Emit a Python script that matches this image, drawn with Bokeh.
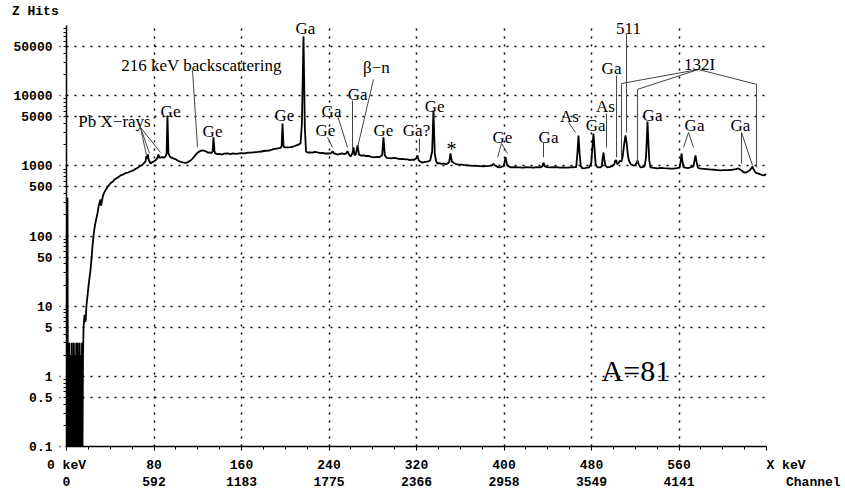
from bokeh.plotting import figure
from bokeh.models import Range1d, FixedTicker, Label, ColumnDataSource, LinearAxis
from bokeh.embed import file_html
from bokeh.resources import INLINE
from bokeh.core.properties import value

# ---------------- data ----------------
energy_kev = [
    0.3, 0.9, 1.3, 1.8, 2.2, 2.7, 3.1, 3.6, 4.0, 4.4, 4.9, 5.3, 5.8, 6.2, 6.7, 7.1, 7.5, 8.0, 8.4, 8.9,
    9.3, 9.8, 10.2, 10.6, 11.1, 11.5, 12.0, 12.4, 12.8, 13.3, 13.7, 14.2, 14.6, 15.1,
    15.6, 16.5, 17.5, 18.2, 19.2, 20.5, 21.9, 23.0, 23.8, 24.7, 25.6, 27.0, 28.3, 29.3, 30.2, 31.0,
    31.6, 32.4, 33.5, 34.6, 35.7, 37.5, 40.2, 42.5, 44.0, 46.0, 47.5, 49.4, 51.5, 54.0, 56.0, 58.5,
    61.0, 63.0, 65.5, 67.7, 69.0, 70.5, 72.2, 73.0, 73.6, 74.4, 75.3, 76.8, 78.0, 79.5, 80.8, 82.5,
    83.4, 84.1, 85.0, 86.3, 87.8, 89.2, 90.5, 91.5, 92.3, 93.2, 94.2, 95.1, 97.5, 99.7, 102.0, 104.0,
    107.0, 109.0, 111.0, 113.0, 115.2, 117.5, 119.8, 122.0, 124.3, 126.5, 127.5, 129.8, 131.0, 132.5,
    133.6, 134.4, 135.3, 136.2, 138.0, 140.0, 142.0, 144.0, 147.2, 150.0, 152.0, 155.0, 158.0, 160.0,
    163.0, 166.0, 168.2, 171.0, 175.0, 178.0, 182.0, 185.0, 189.3, 192.0, 195.7, 196.7, 197.5, 198.4,
    199.3, 202.0, 205.0, 208.0, 212.1, 214.0, 215.2, 216.7, 217.9, 219.0, 220.5, 223.0, 225.0, 227.0,
    229.5, 232.0, 234.0, 236.0, 238.6, 241.0, 242.3, 243.2, 244.2, 246.0, 247.8, 250.0, 252.0, 254.0,
    256.0, 256.9, 258.0, 259.7, 261.2, 262.4, 263.3, 264.5, 266.1, 267.4, 269.0, 272.0, 274.0, 276.0,
    278.0, 280.7, 284.0, 286.0, 288.6, 289.8, 291.0, 292.6, 295.0, 297.0, 300.0, 303.0, 305.0, 307.0,
    310.0, 311.8, 314.0, 316.0, 318.0, 319.7, 320.9, 322.0, 323.5, 325.5, 327.5, 330.0, 332.5, 334.3,
    335.5, 336.7, 338.0, 339.2, 341.0, 343.0, 345.0, 346.5, 348.0, 349.8, 351.1, 352.3, 353.8, 356.0,
    358.0, 361.0, 363.0, 366.0, 369.4, 372.0, 375.0, 378.0, 381.0, 384.0, 387.0, 389.3, 390.4, 391.5,
    393.0, 395.0, 397.0, 399.5, 400.4, 401.4, 402.4, 403.5, 405.9, 408.0, 411.0, 414.0, 417.0, 420.0,
    424.2, 427.0, 430.0, 433.0, 435.0, 436.1, 437.2, 439.0, 442.5, 445.0, 448.0, 451.0, 455.0, 458.0,
    460.8, 463.0, 466.0, 467.1, 468.1, 469.1, 470.2, 471.8, 474.0, 476.0, 478.0, 479.8, 481.0, 481.8,
    482.7, 483.8, 485.5, 488.2, 489.5, 490.2, 491.0, 491.8, 492.8, 494.6, 497.0, 499.0, 500.8, 501.8,
    502.6, 503.5, 504.7, 506.0, 507.3, 508.5, 509.8, 511.1, 512.3, 513.3, 514.2, 516.0, 518.4, 520.0,
    521.2, 522.1, 523.2, 524.8, 526.5, 528.5, 529.8, 530.5, 531.2, 532.0, 532.8, 533.9, 536.0, 540.0,
    543.0, 546.0, 549.5, 552.0, 555.0, 558.0, 560.5, 561.5, 562.3, 563.2, 564.3, 566.0, 568.0, 570.5,
    573.2, 574.2, 575.1, 576.0, 577.2, 578.5, 581.0, 585.0, 588.0, 592.0, 595.0, 597.9, 601.0, 605.0,
    609.0, 612.0, 614.4, 616.0, 617.5, 619.0, 621.0, 623.0, 625.0, 626.5, 627.2, 628.0, 630.0, 632.0,
    634.0, 636.0, 637.5, 639.0, 640.0,
]
counts = [
    0.08, 350, 0.08, 2, 0.08, 3, 0.08, 2, 1, 0.08, 3, 0.08, 2, 0.08, 3, 1, 0.08, 2, 0.08, 3,
    0.08, 2, 3, 0.08, 2, 0.08, 3, 1, 0.08, 2, 0.08, 3, 0.08, 2,
    5, 7.5, 6, 10, 14, 22, 32, 50, 73, 100, 130, 170, 210, 260, 300, 330,
    270, 320, 380, 420, 450, 500, 565, 600, 640, 670, 690, 730, 750, 790, 800, 830,
    860, 900, 950, 1000, 1020, 1080, 1150, 1380, 1250, 1450, 1200, 1080, 1120, 1150, 1180, 1250,
    1330, 1450, 1300, 1320, 1330, 1310, 1360, 1500, 5200, 1500, 1380, 1330, 1280, 1240, 1180, 1150,
    1110, 1100, 1130, 1180, 1270, 1400, 1540, 1620, 1660, 1630, 1600, 1530, 1560, 1520,
    1600, 2540, 1600, 1500, 1470, 1480, 1450, 1490, 1500, 1470, 1500, 1480, 1510, 1520,
    1500, 1540, 1540, 1560, 1580, 1600, 1640, 1650, 1730, 1760, 1800, 1900, 4020, 1900,
    1830, 1830, 1850, 1900, 2000, 2100, 4000, 70000, 3500, 1600, 1550, 1560, 1540, 1580,
    1550, 1520, 1530, 1500, 1500, 1500, 1530, 1620, 1520, 1480, 1450, 1480, 1500, 1470,
    1520, 1620, 1480, 1360, 1480, 1830, 1420, 1450, 1950, 1450, 1400, 1410, 1380, 1390,
    1350, 1320, 1340, 1330, 1420, 2540, 1420, 1300, 1290, 1280, 1300, 1270, 1250, 1260,
    1240, 1240, 1210, 1230, 1220, 1270, 1410, 1200, 1150, 1110, 1140, 1150, 1190, 1600,
    6150, 1500, 1150, 1080, 1090, 1070, 1080, 1060, 1070, 1120, 1500, 1150, 1110, 1060,
    1050, 1040, 1030, 1020, 1010, 1000, 1000, 990, 980, 990, 1000, 1020, 1070, 1020,
    990, 950, 960, 990, 1100, 1330, 1100, 1000, 950, 960, 955, 950, 940, 955,
    950, 940, 960, 950, 980, 1110, 990, 960, 950, 955, 960, 945, 950, 940,
    950, 955, 960, 1500, 2710, 1500, 980, 920, 930, 940, 950, 1100, 2000, 2890,
    1800, 1050, 950, 950, 1000, 1300, 1550, 1200, 1000, 950, 970, 990, 1050, 1190,
    1200, 1050, 1100, 1180, 1150, 1350, 2000, 2710, 2000, 1400, 1190, 1050, 1010, 1020,
    1100, 1190, 1050, 950, 960, 980, 1300, 2200, 4290, 2200, 1200, 950, 940, 920,
    935, 925, 920, 915, 910, 925, 940, 1150, 1500, 1150, 950, 940, 930, 950,
    980, 1200, 1410, 1150, 950, 920, 910, 900, 890, 880, 870, 860, 870, 870,
    880, 900, 920, 880, 850, 810, 800, 830, 870, 940, 980, 900, 800, 780,
    760, 740, 730, 750, 760,
]

kev_ticks = [0, 80, 160, 240, 320, 400, 480, 560]
kev_labels = ["0 keV", "80", "160", "240", "320", "400", "480", "560"]
channel_labels = ["0", "592", "1183", "1775", "2366", "2958", "3549", "4141"]
y_ticks = [0.1, 0.5, 1, 5, 10, 50, 100, 500, 1000, 5000, 10000, 50000]
y_labels = ["0.1", "0.5", "1", "5", "10", "50", "100", "500", "1000", "5000", "10000", "50000"]
x_title = "X keV"
x_title2 = "Channel"
y_title = "Z Hits"

# peak annotations (text, energy keV, counts at text baseline)
ann_text = ["Pb X\u2212rays", "Ge", "216 keV backscattering", "Ge", "Ge", "Ge", "Ga", "Ga",
            "\u03b2\u2212n", "Ge", "Ga?", "Ge", "Ge", "Ga", "As", "Ga", "As", "Ga",
            "132I", "Ga", "Ga", "Ga"]
ann_x = [43.9, 95.1, 123.4, 133.5, 199.3, 236.8, 242.3, 266.1, 283.4, 289.8, 320.0, 336.5,
         398.6, 440.7, 459.9, 483.7, 492.8, 498.3, 578.8, 535.8, 574.2, 616.2]
ann_y = [4290, 5960, 26900, 3090, 5230, 3190, 5960, 10400, 25200, 3190, 3190, 7020,
         2540, 2540, 5060, 3760, 7020, 24400, 27800, 5230, 3760, 3760]
# annotations that reach above the top of the plotting area
top_ann_text = ["Ga", "511"]
top_ann_x = [218.5, 513.8]

leader_xs = [[67.7, 73.1], [67.7, 75.9], [67.7, 85.9], [115.2, 119.8], [238.6, 243.2],
             [247.8, 256.9], [261.5, 261.5], [280.7, 266.1], [322.7, 322.7], [397.7, 394.1],
             [397.7, 403.2], [436.1, 436.1], [459.0, 465.4], [493.7, 493.7], [502.9, 502.9],
             [512.0, 512.0], [507.4, 507.4, 577.8], [522.1, 522.1, 577.8], [630.9, 630.9, 577.8],
             [568.7, 564.1], [568.7, 573.3], [617.2, 617.2], [617.2, 627.2]]
leader_ys = [[3520, 1410], [3520, 1500], [3520, 1550], [22900, 1830], [2540, 1830],
             [5230, 1830], [8540, 1660], [17000, 1830], [2460, 1550], [2080, 1320],
             [2080, 1500], [2150, 1320], [4150, 2990], [5580, 1830], [19400, 1320],
             [76900, 2990], [1190, 14900, 23600], [1080, 12300, 23600], [950, 14500, 23600],
             [2990, 1830], [2990, 1830], [2990, 1080], [2990, 1010]]

# ---------------- figure ----------------
p = figure(width=845, height=492, x_range=Range1d(0, 640), y_range=Range1d(0.1, 1e5),
           y_axis_type="log", output_backend="svg", toolbar_location=None, title=None,
           min_border_left=66, min_border_right=79, min_border_top=25, min_border_bottom=45)
p.outline_line_color = None
p.background_fill_color = "white"
p.border_fill_color = "white"

mono = "Liberation Mono"
serif = "Liberation Serif"
NB = "\u00a0"

# grid: dotted
p.xgrid.ticker = FixedTicker(ticks=kev_ticks[1:] + [640])
p.ygrid.ticker = FixedTicker(ticks=y_ticks[1:] + [100000])
for g in (p.xgrid, p.ygrid):
    g.grid_line_color = "black"
    g.grid_line_width = 1.5
    g.grid_line_dash = [2, 6]

# x axis: keV row + channel row; the right end carries the axis titles
x_minor = [v for v in range(0, 641, 20) if v % 80 != 0]
p.xaxis.ticker = FixedTicker(ticks=kev_ticks + [640], minor_ticks=x_minor)
overrides = {t: f"{k}\n{c}" for t, k, c in zip(kev_ticks, kev_labels, channel_labels)}
overrides[640] = NB * 5 + x_title + "\n" + NB * 12 + x_title2
p.xaxis.major_label_overrides = overrides
p.xaxis.major_label_text_font = mono
p.xaxis.major_label_text_font_style = "bold"
p.xaxis.major_label_text_font_size = "13px"
p.xaxis.major_label_text_color = "black"
p.xaxis.major_label_text_line_height = 1.15
p.xaxis.major_label_standoff = 7
p.xaxis.major_tick_in = 0
p.xaxis.major_tick_out = 4
p.xaxis.minor_tick_in = 0
p.xaxis.minor_tick_out = 3
p.xaxis.axis_line_width = 1.5
p.xaxis.axis_line_color = "black"

# y axis
y_minor = [m * 10 ** e for e in range(-1, 5) for m in range(2, 10)]
p.yaxis.ticker = FixedTicker(ticks=y_ticks, minor_ticks=y_minor)
p.yaxis.major_label_overrides = {t: s for t, s in zip(y_ticks, y_labels)}
p.yaxis.major_label_text_font = mono
p.yaxis.major_label_text_font_style = "bold"
p.yaxis.major_label_text_font_size = "13px"
p.yaxis.major_label_text_color = "black"
p.yaxis.major_label_standoff = 7
p.yaxis.major_tick_in = 0
p.yaxis.major_tick_out = 7
p.yaxis.major_tick_line_dash = [1, 5]
p.yaxis.major_tick_line_width = 1.5
p.yaxis.minor_tick_in = 0
p.yaxis.minor_tick_out = 3
p.yaxis.axis_line_width = 1.5
p.yaxis.axis_line_color = "black"


def label_only_axis(ticks, labels, font, size, standoff, bold=False):
    ax = LinearAxis(ticker=FixedTicker(ticks=ticks),
                    major_label_overrides={t: s for t, s in zip(ticks, labels)})
    ax.axis_line_color = None
    ax.major_tick_line_color = None
    ax.minor_tick_line_color = None
    ax.major_tick_out = 0
    ax.major_tick_in = 0
    ax.minor_tick_out = 0
    ax.major_label_standoff = standoff
    ax.major_label_text_font = font
    ax.major_label_text_font_size = size
    ax.major_label_text_color = "black"
    if bold:
        ax.major_label_text_font_style = "bold"
    return ax


# top annotations carried by invisible axes above the frame (not clipped)
p.add_layout(label_only_axis(top_ann_x, top_ann_text, serif, "17px", -12), "above")
p.add_layout(label_only_axis([0], [y_title + NB * 8], mono, "13px", -3, bold=True), "above")

# spectrum
p.line(energy_kev, counts, line_color="black", line_width=1.8)

# leader lines
p.multi_line(leader_xs, leader_ys, line_color="#444444", line_width=1)

# peak annotations
src = ColumnDataSource(dict(x=ann_x, y=ann_y, t=ann_text))
p.text(x="x", y="y", text="t", source=src, text_font=value(serif), text_font_size="17px",
       text_align="center", text_baseline="alphabetic", text_color="black")

p.add_layout(Label(x=352.0, y=1740, text="*", text_font=serif, text_font_size="20px",
                   text_align="center", text_baseline="alphabetic", text_color="black"))
p.add_layout(Label(x=489.2, y=1.22, text="A=81", text_font=serif, text_font_size="30px",
                   text_align="left", text_baseline="alphabetic", text_color="black"))

open("out.html", "w").write(file_html(p, INLINE))
